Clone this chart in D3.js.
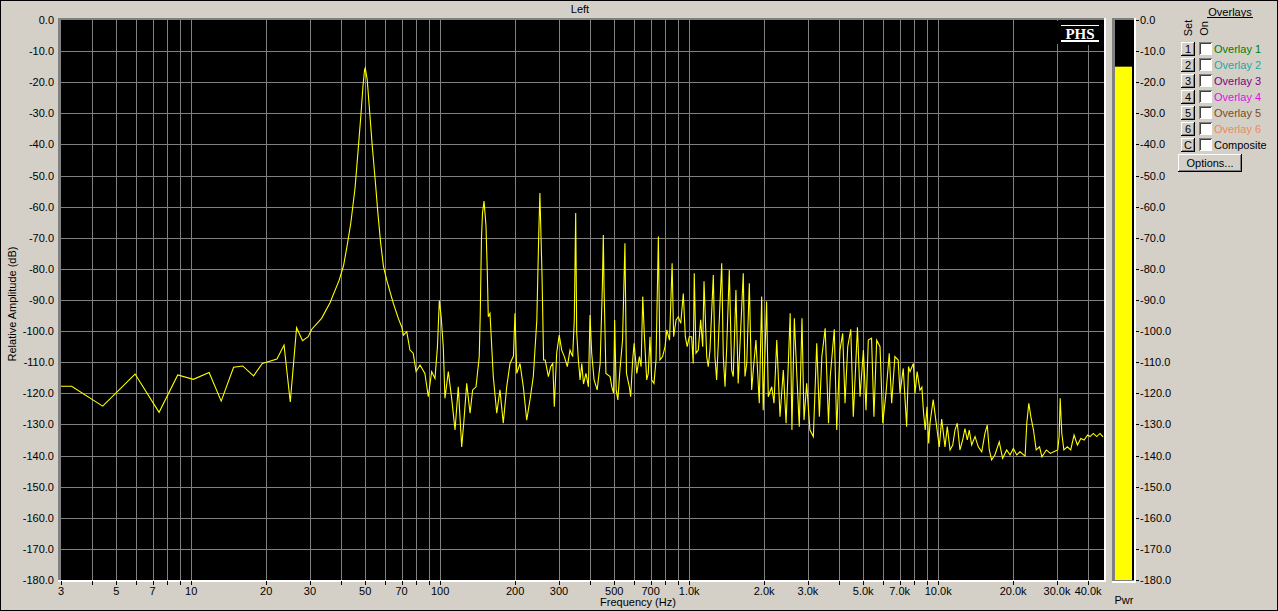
<!DOCTYPE html>
<html>
<head>
<meta charset="utf-8">
<script src="https://cdn.jsdelivr.net/npm/d3@7"></script>
<style>
  html, body { margin: 0; padding: 0; background: #d4d0c8; }
  svg { display: block; font-family: "Liberation Sans", Arial, sans-serif; font-size: 11px; }
</style>
</head>
<body>
<div id="chart"></div>
<script>
// spectrum: frequency (Hz) and level (dB)
const freqHz = [3, 3.31, 4.41, 5.95, 7.43, 8.83, 10.2, 11.8, 13.2, 14.8, 16.1, 17.8, 19.3, 22.1, 23.6, 25.0,
  26.5, 28.0, 29.5, 30.5, 33.4, 36.1, 39.3, 40.9, 42.2, 43.8, 45.5, 46.8, 48.1, 49.0, 49.7, 50.0,
  50.9, 51.8, 53.3, 54.9, 56.2, 57.6, 59.2, 61.0, 64.8, 67.9, 70.0, 71.2, 73.4, 75.6, 77.9, 80.0,
  83.0, 86.8, 89.6, 92.4, 95.3, 97.5, 99.2, 100.8, 102.9, 104.5, 107.8, 111.2, 114.7, 118.2, 122.0, 124.6,
  127.8, 131.8, 135.0, 139.3, 143.5, 144.8, 146.5, 147.9, 150.0, 152.7, 154.6, 156.0, 158.5, 163.4, 168.7, 173.8,
  179.2, 185.0, 190.7, 196.9, 199.7, 203.0, 209.2, 215.7, 222.6, 229.5, 236.6, 244.4, 248.6, 251.4, 254.5, 256.3,
  260.2, 264.1, 272.0, 277.8, 283.3, 287.3, 293.6, 300.7, 307.6, 315.2, 324.0, 332.1, 340.4, 345.6, 350.1, 353.4,
  358.9, 364.6, 370.5, 376.3, 385.0, 393.9, 399.6, 406, 415, 427, 439, 448, 452, 455, 463, 481,
  489, 497, 502, 509, 517, 527, 540, 552, 560, 575, 582, 593, 601, 616, 631, 641,
  651, 660, 675, 685, 696, 707, 722, 736, 752, 763, 782, 800, 813, 834, 854, 866,
  886, 904, 925, 947, 965, 982, 1001, 1023, 1038, 1048, 1065, 1088, 1112, 1133, 1147, 1176,
  1193, 1212, 1250, 1269, 1289, 1309, 1351, 1371, 1393, 1415, 1449, 1481, 1503, 1541, 1573, 1610,
  1649, 1675, 1703, 1744, 1782, 1809, 1854, 1912, 1955, 1983, 2046, 2078, 2146, 2191, 2248, 2316,
  2388, 2450, 2545, 2586, 2644, 2700, 2768, 2838, 2891, 2964, 3055, 3153, 3253, 3333, 3410, 3517,
  3627, 3686, 3826, 3913, 4033, 4135, 4225, 4333, 4456, 4562, 4740, 4855, 5008, 5131, 5240, 5400,
  5520, 5663, 5840, 5990, 6170, 6360, 6505, 6700, 6907, 7025, 7240, 7470, 7600, 7710, 7950, 8070,
  8230, 8450, 8600, 8730, 8870, 9020, 9160, 9270, 9550, 9860, 10100, 10330, 10650, 10880, 11160, 11440,
  11680, 11930, 12230, 12540, 12810, 13090, 13330, 13630, 14060, 14490, 14960, 15410, 15740, 16040, 16390, 16890,
  17590, 18150, 18840, 19430, 20040, 20680, 21310, 22340, 22690, 23120, 23560, 24140, 24750, 25530, 26100, 27190,
  28220, 29100, 30210, 30610, 30900, 31370, 31980, 33010, 34060, 35130, 36250, 37390, 38570, 39820, 40700, 42000,
  43300, 44650, 45900];
const levelDb = [-117.7, -117.7, -124.1, -113.8, -126.1, -114.1, -115.5, -113.3, -122.5, -111.6, -111.2, -114.4, -110.4, -109, -104.5, -122.8,
  -98.9, -103.1, -101.8, -99.4, -95.9, -90.9, -83.6, -79, -73, -65, -54, -42, -30, -21, -16, -15.4,
  -19, -27, -40, -52, -62, -71.3, -79.3, -83.6, -91, -95.9, -98.6, -101.3, -100.2, -106.1, -107.1, -113,
  -110.9, -113.6, -121.1, -113, -115.2, -105, -90.2, -95, -105, -121.6, -113, -121.6, -131.8, -117.9, -137.2, -128.6,
  -116.8, -126.4, -118.9, -117.9, -108.2, -95, -70, -62, -58.2, -66, -81, -95.4, -94.3, -114.6, -126.4, -118.9,
  -129.6, -117.9, -110.4, -108, -94.3, -113.6, -110.4, -117.9, -128.6, -122, -114.6, -96.4, -70, -55.6, -72, -81.3,
  -109.3, -109.3, -114.6, -111.4, -110.4, -124.3, -107.1, -101.3, -106.1, -108.2, -111.4, -106.1, -108.2, -96.4, -62, -100.6,
  -109.3, -115.7, -110.4, -117, -113.6, -117.9, -94.8, -107.1, -115.7, -118.9, -110.4, -85.7, -69.1, -85.7, -113.6, -114.6,
  -117.9, -120, -96.4, -118.9, -122.1, -112.5, -102.9, -71.8, -113.6, -117.9, -121.1, -109.3, -103.9, -113.6, -108.2, -111.4,
  -88.9, -100.7, -115.7, -113.6, -101.8, -115.7, -116.8, -109.3, -69.6, -109.3, -108.2, -105, -99.6, -102.9, -78.2, -101.8,
  -96.4, -95.4, -97.5, -87.9, -101.8, -105, -101.8, -101.8, -110.4, -81.4, -107.1, -106.1, -96.4, -105, -84, -108.2,
  -111.4, -106.1, -82, -108.2, -115.7, -103.9, -78.2, -108.2, -117.9, -105, -80.4, -112.5, -114.6, -86.8, -116.8, -99.6,
  -81.4, -114.6, -110.4, -84.6, -118.9, -112.5, -102.9, -123.2, -88.9, -125.4, -90.5, -121.1, -117.9, -123.2, -102.9, -127.5,
  -112.5, -129.6, -94.3, -131.8, -95.9, -112.5, -130.7, -95.9, -128.6, -116.8, -131.8, -133.9, -103.9, -127.5, -108.2, -99.1,
  -129.6, -114.6, -99.4, -131.8, -106.1, -100.7, -123.2, -105, -99.4, -127.5, -98.8, -121.1, -106.1, -125.4, -102.9, -102.3,
  -127.5, -102.9, -105, -129.6, -120, -107.1, -123.2, -108.2, -109.3, -120, -112, -130.7, -111.4, -113, -110.4, -120,
  -113, -119, -118, -126, -131.8, -124.3, -136.1, -129.6, -122, -130.7, -137.2, -128.3, -137.2, -130.7, -138.2, -136.6,
  -131.8, -129.6, -138.2, -135, -131.3, -135, -131.8, -136.6, -133.9, -137.2, -138.8, -132.9, -130.2, -138.2, -141.4, -139.8,
  -135.6, -140.9, -138.2, -139.8, -137.7, -139.8, -138.8, -140.2, -129.6, -123.2, -127.5, -131.8, -138.2, -137.2, -140.4, -138.2,
  -139.3, -138.8, -138.2, -133.9, -121.6, -132.9, -138.2, -137.2, -138.2, -133.4, -136.6, -134.5, -135, -133.4, -133.9, -132.9,
  -133.9, -132.9, -134];

const yTicks = d3.range(0, -181, -10);
const xLabelled = [3, 5, 7, 10, 20, 30, 50, 70, 100, 200, 300, 500, 700, 1000, 2000, 3000, 5000, 7000,
  10000, 20000, 30000, 40000];
const overlayNames = ['Overlay 1', 'Overlay 2', 'Overlay 3', 'Overlay 4', 'Overlay 5', 'Overlay 6', 'Composite'];
const overlayKeys = ['1', '2', '3', '4', '5', '6', 'C'];
const overlayColors = ['#008000', '#20a8a8', '#800080', '#e010e0', '#804a20', '#f08858', '#000000'];
const powerDb = -15;

const W = 1278, H = 611;
const plot = {left: 61, right: 1104, top: 20, bottom: 580};

const svg = d3.select('#chart').append('svg')
    .attr('width', W)
    .attr('height', H);

svg.append('rect')
    .attr('x', 0.5).attr('y', 0.5)
    .attr('width', W - 1).attr('height', H - 1)
    .attr('fill', '#d4d0c8')
    .attr('stroke', '#000');

const x = d3.scaleLog()
    .domain([3, 46340])
    .range([plot.left, plot.right]);
const y = d3.scaleLinear()
    .domain([-180, 0])
    .range([plot.bottom, plot.top]);

// all minor positions 3..9, 10..90, ... 40k
let xGrid = [];
[1, 10, 100, 1000, 10000].forEach(dec => {
    for (let m = 1; m <= 9; m++) {
        let f = m * dec;
        if (f >= 3 && f <= 40000) xGrid.push(f);
    }
});

// plot frame: sunken look
svg.append('rect')
    .attr('x', plot.left - 3).attr('y', plot.top - 2)
    .attr('width', plot.right - plot.left + 5).attr('height', plot.bottom - plot.top + 4)
    .attr('fill', '#fff');
svg.append('rect')
    .attr('x', plot.left - 3).attr('y', plot.top - 2)
    .attr('width', plot.right - plot.left + 3).attr('height', plot.bottom - plot.top + 2)
    .attr('fill', '#808080');
svg.append('rect')
    .attr('x', plot.left).attr('y', plot.top)
    .attr('width', plot.right - plot.left).attr('height', plot.bottom - plot.top)
    .attr('fill', '#000');

const grid = svg.append('g')
    .attr('stroke', '#808080')
    .attr('shape-rendering', 'crispEdges');
grid.selectAll('line.v')
    .data(xGrid.filter(f => f > 3))
    .join('line')
    .attr('class', 'v')
    .attr('x1', d => Math.round(x(d)) + 0.5)
    .attr('x2', d => Math.round(x(d)) + 0.5)
    .attr('y1', d => d === 40000 ? 45 : plot.top)
    .attr('y2', plot.bottom);
grid.selectAll('line.h')
    .data(yTicks.filter(d => d < 0 && d > -180))
    .join('line')
    .attr('class', 'h')
    .attr('x1', plot.left)
    .attr('x2', plot.right)
    .attr('y1', d => Math.round(y(d)) + 0.5)
    .attr('y2', d => Math.round(y(d)) + 0.5);

// PHS logo
const logo = svg.append('g');
logo.append('rect')
    .attr('x', 1057).attr('y', 21).attr('width', 46).attr('height', 23)
    .attr('fill', '#000');
logo.append('text')
    .attr('x', 1080).attr('y', 38.5)
    .attr('text-anchor', 'middle')
    .attr('fill', '#fff')
    .style('font-family', '"Liberation Serif", "DejaVu Serif", serif')
    .style('font-weight', 'bold')
    .style('font-size', '15px')
    .text('PHS');
logo.selectAll('line')
    .data([25.5, 41])
    .join('line')
    .attr('x1', 1061).attr('x2', 1099)
    .attr('y1', d => d).attr('y2', d => d)
    .attr('stroke', '#fff')
    .attr('stroke-width', d => d > 30 ? 2 : 1);

// spectrum trace
const line = d3.line()
    .x((d, i) => x(freqHz[i]))
    .y(d => y(d));
svg.append('path')
    .datum(levelDb)
    .attr('d', line)
    .attr('fill', 'none')
    .attr('stroke', '#ffff00')
    .attr('stroke-width', 1.1);

// y axis labels
svg.append('g')
    .selectAll('text')
    .data(yTicks)
    .join('text')
    .attr('x', 54)
    .attr('y', d => y(d) + 4)
    .attr('text-anchor', 'end')
    .attr('fill', '#000')
    .text(d => d.toFixed(1));

// x axis ticks and labels
const xAxis = svg.append('g');
xAxis.selectAll('line')
    .data(xGrid)
    .join('line')
    .attr('x1', d => Math.round(x(d)) + 0.5)
    .attr('x2', d => Math.round(x(d)) + 0.5)
    .attr('y1', plot.bottom + 1)
    .attr('y2', plot.bottom + 5)
    .attr('stroke', '#000')
    .attr('shape-rendering', 'crispEdges');
xAxis.selectAll('text')
    .data(xLabelled)
    .join('text')
    .attr('x', d => x(d))
    .attr('y', 595)
    .attr('text-anchor', 'middle')
    .attr('fill', '#000')
    .text(d => d >= 1000 ? (d / 1000).toFixed(1) + 'k' : d);

svg.append('text')
    .attr('x', 638).attr('y', 606)
    .attr('text-anchor', 'middle')
    .text('Frequency (Hz)');
svg.append('text')
    .attr('x', 580).attr('y', 13)
    .attr('text-anchor', 'middle')
    .text('Left');
svg.append('text')
    .attr('transform', 'translate(16,304) rotate(-90)')
    .attr('text-anchor', 'middle')
    .text('Relative Amplitude (dB)');

// power meter
const meter = svg.append('g');
meter.append('rect')
    .attr('x', 1112).attr('y', 18).attr('width', 24).attr('height', 565)
    .attr('fill', '#fff');
meter.append('rect')
    .attr('x', 1112).attr('y', 18).attr('width', 22).attr('height', 563)
    .attr('fill', '#808080');
meter.append('rect')
    .attr('x', 1115).attr('y', plot.top).attr('width', 19).attr('height', plot.bottom - plot.top)
    .attr('fill', '#000');
meter.append('rect')
    .attr('x', 1115).attr('y', y(powerDb))
    .attr('width', 17).attr('height', plot.bottom - y(powerDb))
    .attr('fill', '#ffff00');
meter.selectAll('line')
    .data(yTicks)
    .join('line')
    .attr('x1', 1136).attr('x2', 1139)
    .attr('y1', d => Math.round(y(d)) + 0.5)
    .attr('y2', d => Math.round(y(d)) + 0.5)
    .attr('stroke', '#000');
meter.selectAll('text')
    .data(yTicks)
    .join('text')
    .attr('x', 1140)
    .attr('y', d => y(d) + 4)
    .text(d => d.toFixed(1));
meter.append('text')
    .attr('x', 1124).attr('y', 604)
    .attr('text-anchor', 'middle')
    .text('Pwr');

// overlays panel
const panel = svg.append('g');
panel.append('text')
    .attr('x', 1230).attr('y', 16)
    .attr('text-anchor', 'middle')
    .text('Overlays');
panel.append('line')
    .attr('x1', 1207).attr('x2', 1253)
    .attr('y1', 17.5).attr('y2', 17.5)
    .attr('stroke', '#000');
panel.append('text')
    .attr('transform', 'translate(1192,28) rotate(-90)')
    .attr('text-anchor', 'middle')
    .text('Set');
panel.append('text')
    .attr('transform', 'translate(1208,28.5) rotate(-90)')
    .attr('text-anchor', 'middle')
    .text('On');

function button(g, bx, by, bw, bh, label) {
    g.append('rect').attr('x', bx).attr('y', by).attr('width', bw).attr('height', bh).attr('fill', '#000');
    g.append('rect').attr('x', bx).attr('y', by).attr('width', bw - 1).attr('height', bh - 1).attr('fill', '#fff');
    g.append('rect').attr('x', bx + 1).attr('y', by + 1).attr('width', bw - 2).attr('height', bh - 2).attr('fill', '#808080');
    g.append('rect').attr('x', bx + 1).attr('y', by + 1).attr('width', bw - 3).attr('height', bh - 3).attr('fill', '#d4d0c8');
    g.append('text').attr('x', bx + bw / 2).attr('y', by + bh / 2 + 4)
        .attr('text-anchor', 'middle').text(label);
}

const rows = panel.selectAll('g.row')
    .data(overlayNames)
    .join('g')
    .attr('class', 'row')
    .attr('shape-rendering', 'crispEdges');
rows.each(function (d, i) {
    const g = d3.select(this);
    const ry = 42 + i * 16;
    button(g, 1181, ry, 14, 14, overlayKeys[i]);
    g.append('rect').attr('x', 1199).attr('y', ry).attr('width', 13).attr('height', 13).attr('fill', '#808080');
    g.append('rect').attr('x', 1200).attr('y', ry + 1).attr('width', 12).attr('height', 12).attr('fill', '#fff');
    g.append('rect').attr('x', 1200).attr('y', ry + 1).attr('width', 11).attr('height', 11).attr('fill', '#404040');
    g.append('rect').attr('x', 1201).attr('y', ry + 2).attr('width', 10).attr('height', 10).attr('fill', '#fff');
    g.append('text')
        .attr('x', 1214).attr('y', ry + 11)
        .attr('fill', overlayColors[i])
        .attr('shape-rendering', null)
        .text(d);
});
button(panel, 1178, 154, 64, 18, 'Options...');
</script>
</body>
</html>
